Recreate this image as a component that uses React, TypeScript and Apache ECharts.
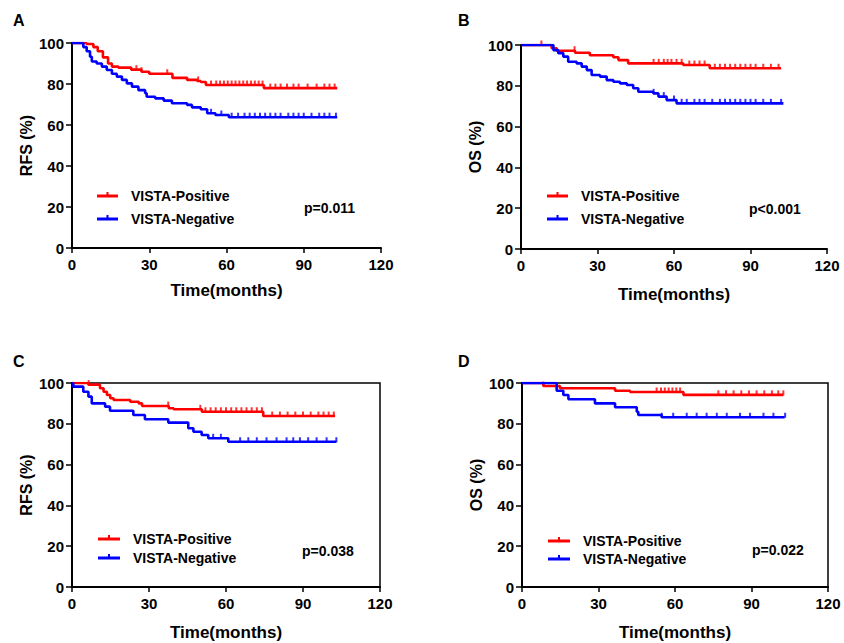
import React, { useEffect, useRef } from 'react';
import * as echarts from 'echarts';

// ---------- Data ----------
const xTicksMax = 120;
const xTickStep = 30;
const yTickStep = 20;

const panelLetters = ['A', 'B', 'C', 'D'];
const yNames = ['RFS (%)', 'OS (%)', 'RFS (%)', 'OS (%)'];
const xName = 'Time(months)';
const pValues = ['p=0.011', 'p<0.001', 'p=0.038', 'p=0.022'];
const groupNames = ['VISTA-Positive', 'VISTA-Negative'];

// Panel A (RFS)
const aPosTime = [0, 5.7, 8.3, 10, 12, 14, 15.5, 18, 23, 27, 30, 39, 44.7, 48.6, 50, 52, 74.5, 103];
const aPosSurv = [100, 99.5, 98, 96, 93, 90, 88.5, 88, 87, 86, 85, 83, 82, 81.5, 81, 79.5, 78, 78];
const aPosCens = [25, 27, 37, 49, 54, 56, 57.5, 59, 60.5, 62, 63.5, 65, 66.5, 68, 69.5, 71, 72.5, 74, 77, 79, 81, 83.5, 86, 88, 91.5, 95, 98, 100, 102];
const aNegTime = [0, 3, 4.4, 5.7, 7, 7.7, 9.6, 11.6, 13.5, 15.5, 17.4, 19.4, 21.3, 23.3, 25.8, 28.4, 29, 32.3, 35.6, 38.8, 44.7, 46.6, 50, 52.5, 55.7, 60.9, 103];
const aNegSurv = [100, 100, 98, 96, 93.3, 91, 90, 88.5, 86.8, 85, 83.6, 82, 80.3, 78.7, 77, 75.5, 73.8, 73, 71.9, 70.6, 69.8, 68.6, 67.7, 65.7, 64.9, 63.8, 63.8];
const aNegCens = [54, 58, 62, 64.5, 67, 69, 71, 73, 75, 77, 79, 81, 84, 86, 88, 90, 93, 96, 98, 100, 102.5];

// Panel B (OS)
const bPosTime = [0, 12, 14, 21.2, 27, 36.2, 38.2, 42, 63.6, 74, 102];
const bPosSurv = [100, 98.4, 97.2, 96.2, 95, 94, 92.6, 91, 90.2, 88.6, 88.6];
const bPosCens = [8, 21, 52, 54, 56, 57.5, 59, 61, 63, 66, 68, 70, 72, 76, 78, 80, 82, 84, 86, 88, 90, 92, 95, 98, 101];
const bNegTime = [0, 12.7, 14.6, 16.6, 18.5, 21.8, 23.8, 25.8, 27.7, 31, 33.6, 36.2, 38.8, 41.5, 44, 46, 51.9, 53.9, 57.1, 61, 102.9];
const bNegSurv = [100, 97.5, 96, 94.3, 91.8, 91, 89.4, 87.7, 85.3, 84.5, 82.8, 82, 81.2, 80.4, 78.8, 77.1, 76.3, 74.7, 73, 71.4, 71.4];
const bNegCens = [52, 56, 60, 63, 65, 68, 70, 72, 75, 78, 80, 82, 84, 86, 88, 90, 92, 95, 98, 102];

// Panel C (RFS)
const cPosTime = [0, 6.4, 10.9, 12.3, 13.6, 14.9, 16.2, 22.7, 26, 27.3, 37.7, 39.6, 50.6, 74.5, 102.5];
const cPosSurv = [100, 99.2, 97.4, 95.7, 94.1, 92.5, 91.7, 90.8, 90, 88.7, 87.6, 87.1, 85.9, 83.8, 83.8];
const cPosCens = [6.5, 37.5, 50, 52, 54, 56, 58, 60, 62, 64, 66, 68, 70, 72, 74, 78, 81, 84, 87, 90, 93, 96, 98, 100, 102];
const cNegTime = [0, 0.5, 4.4, 6.4, 7.7, 12.9, 14.8, 23.9, 28.4, 37.5, 45.3, 47.3, 50.5, 53.1, 60.9, 103];
const cNegSurv = [100, 98.2, 95.7, 93.3, 90, 88.4, 86.4, 84.3, 82.2, 80.6, 77.8, 76.1, 74.5, 72.9, 71.2, 71.2];
const cNegCens = [55, 58, 65.5, 68.7, 72, 75.8, 79.7, 83.6, 86.2, 88.8, 92, 95.3, 99.2, 103];

// Panel D (OS)
const dPosTime = [0, 8.4, 14.9, 36.5, 42.4, 63.3, 102.5];
const dPosSurv = [100, 98.5, 97.4, 96.2, 95.6, 94.2, 94.2];
const dPosCens = [8.4, 52.8, 54.5, 56, 57.5, 59, 60.5, 62, 77, 80, 83, 86, 89, 92, 95, 98, 100.5, 102.5];
const dNegTime = [0, 13.6, 16.2, 18.2, 28.6, 36.5, 45, 45.6, 54.8, 103];
const dNegSurv = [100, 96.2, 94.1, 92, 90, 88.1, 85.9, 84.3, 83.2, 83.2];
const dNegCens = [54.8, 59.3, 64.6, 68.5, 72.4, 76.4, 80.3, 85.5, 89.4, 94.7, 98.6, 103.2];

const panels = [
  { pos: [aPosTime, aPosSurv, aPosCens], neg: [aNegTime, aNegSurv, aNegCens] },
  { pos: [bPosTime, bPosSurv, bPosCens], neg: [bNegTime, bNegSurv, bNegCens] },
  { pos: [cPosTime, cPosSurv, cPosCens], neg: [cNegTime, cNegSurv, cNegCens] },
  { pos: [dPosTime, dPosSurv, dPosCens], neg: [dNegTime, dNegSurv, dNegCens] },
];

// ---------- Layout / style ----------
const FONT = '"Liberation Sans", Arial, Helvetica, sans-serif';
const RED = '#ff0000';
const BLUE = '#0000ff';

const grids = [
  { left: 72, top: 43, width: 309, height: 205, box: false, xGap: 34 },
  { left: 521, top: 45, width: 306, height: 204, box: false, xGap: 37 },
  { left: 72, top: 383, width: 308, height: 204, box: true, xGap: 37 },
  { left: 522, top: 383, width: 306, height: 204, box: true, xGap: 37 },
];

const letterPos = [[13, 20], [458, 20], [13, 361], [458, 361]];
// legend: [lineX1, lineX2, textX, posY, negY, pX, pY]
const legendPos = [
  [97, 118, 131, 196, 219, 304, 208],
  [547, 568, 581, 196, 219, 749, 209],
  [98, 120, 133, 539, 558, 302, 551],
  [548, 570, 583, 541, 559, 752, 550],
];

function survAt(times: number[], surv: number[], t: number) {
  let v = surv[0];
  for (let i = 0; i < times.length; i++) {
    if (times[i] <= t) v = surv[i];
  }
  return v;
}

export default function App() {
  const ref = useRef<HTMLDivElement>(null);

  useEffect(() => {
    if (!ref.current) return;
    const chart = echarts.init(ref.current, undefined, { renderer: 'svg' });

    const gridOpt = grids.map((g) => ({
      left: g.left,
      top: g.top,
      width: g.width,
      height: g.height,
      show: g.box,
      borderColor: '#000',
      borderWidth: 1.5,
      backgroundColor: 'transparent',
      containLabel: false,
    }));

    const xAxes = grids.map((g, i) => ({
      type: 'value',
      gridIndex: i,
      min: 0,
      max: xTicksMax,
      interval: xTickStep,
      name: xName,
      nameLocation: 'middle',
      nameGap: g.xGap,
      nameTextStyle: { fontFamily: FONT, fontWeight: 'bold', fontSize: 17, color: '#000' },
      axisLine: { show: true, onZero: false, lineStyle: { color: '#000', width: 2 } },
      axisTick: { show: true, length: 5, lineStyle: { color: '#000', width: 1.5 } },
      axisLabel: { margin: 9, fontFamily: FONT, fontWeight: 'bold', fontSize: 15, color: '#000' },
      splitLine: { show: false },
    }));

    const yAxes = grids.map((g, i) => ({
      type: 'value',
      gridIndex: i,
      min: 0,
      max: 100,
      interval: yTickStep,
      name: yNames[i],
      nameLocation: 'middle',
      nameGap: 38,
      nameTextStyle: { fontFamily: FONT, fontWeight: 'bold', fontSize: 16, color: '#000' },
      axisLine: { show: true, onZero: false, lineStyle: { color: '#000', width: 2 } },
      axisTick: { show: true, length: 6, lineStyle: { color: '#000', width: 1.5 } },
      axisLabel: { margin: 8, fontFamily: FONT, fontWeight: 'bold', fontSize: 15, color: '#000' },
      splitLine: { show: false },
    }));

    const series: any[] = [];
    panels.forEach((p, i) => {
      const groups = [
        { d: p.pos, color: RED, name: groupNames[0] },
        { d: p.neg, color: BLUE, name: groupNames[1] },
      ];
      groups.forEach((g) => {
        const [times, surv, cens] = g.d;
        series.push({
          type: 'line',
          name: g.name,
          xAxisIndex: i,
          yAxisIndex: i,
          step: 'end',
          showSymbol: false,
          symbol: 'none',
          data: times.map((t, k) => [t, surv[k]]),
          lineStyle: { color: g.color, width: 2.6 },
          itemStyle: { color: g.color },
          silent: true,
        });
        series.push({
          type: 'scatter',
          name: g.name + ' censored',
          xAxisIndex: i,
          yAxisIndex: i,
          symbol: 'rect',
          symbolSize: [2, 5],
          symbolOffset: [0, -2],
          data: cens.map((t) => [t, survAt(times, surv, t)]),
          itemStyle: { color: g.color },
          silent: true,
        });
      });
    });

    const graphic: any[] = [];
    letterPos.forEach(([x, y], i) => {
      graphic.push({
        type: 'text',
        left: x,
        top: y - 8,
        style: { text: panelLetters[i], fontFamily: FONT, fontWeight: 'bold', fontSize: 16, fill: '#000' },
      });
    });
    legendPos.forEach(([x1, x2, tx, py, ny, px, pyy], i) => {
      [[py, RED, groupNames[0]], [ny, BLUE, groupNames[1]]].forEach(([yy, col, txt]: any) => {
        graphic.push({
          type: 'line',
          shape: { x1, y1: yy, x2, y2: yy },
          style: { stroke: col, lineWidth: 3 },
        });
        graphic.push({
          type: 'line',
          shape: { x1: (x1 + x2) / 2, y1: yy - 4, x2: (x1 + x2) / 2, y2: yy },
          style: { stroke: col, lineWidth: 2 },
        });
        graphic.push({
          type: 'text',
          x: tx,
          y: yy,
          style: { text: txt, fontFamily: FONT, fontWeight: 'bold', fontSize: 14, fill: '#000', verticalAlign: 'middle' },
        });
      });
      graphic.push({
        type: 'text',
        x: px,
        y: pyy,
        style: { text: pValues[i], fontFamily: FONT, fontWeight: 'bold', fontSize: 14, fill: '#000', verticalAlign: 'middle' },
      });
    });

    chart.setOption({
      animation: false,
      backgroundColor: '#fff',
      grid: gridOpt,
      xAxis: xAxes,
      yAxis: yAxes,
      series,
      graphic,
    });

    return () => chart.dispose();
  }, []);

  return (
    <div
      ref={ref}
      style={{ position: 'fixed', left: 0, top: 0, width: 844, height: 643, background: '#fff' }}
    />
  );
}
